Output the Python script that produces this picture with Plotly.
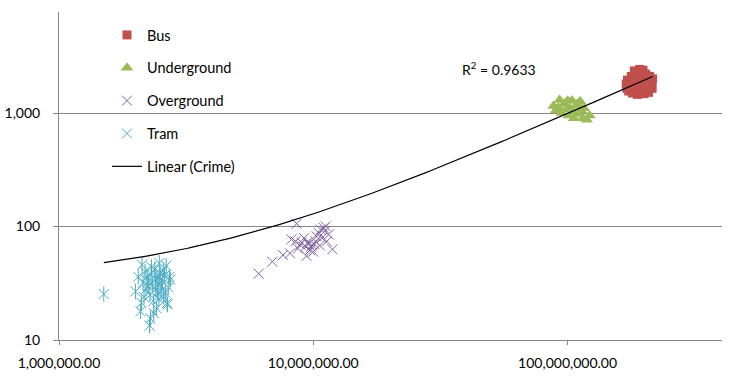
import plotly.graph_objects as go
import numpy as np

# ---- data ----
bus_x = [1.70e8, 1.71e8, 1.72e8, 1.74e8, 1.76e8, 1.78e8, 1.80e8, 1.81e8, 1.83e8, 1.84e8,
         1.86e8, 1.88e8, 1.89e8, 1.90e8, 1.92e8, 1.93e8, 1.95e8, 1.96e8, 1.98e8, 2.00e8,
         2.01e8, 2.03e8, 2.04e8, 2.06e8, 2.08e8, 2.10e8, 2.12e8, 2.13e8, 2.15e8, 2.16e8, 2.14e8]
bus_y = [1800, 1650, 1950, 1560, 1740, 2100, 1500, 1880, 2350, 1660,
         2000, 1460, 2250, 1800, 2420, 1600, 2100, 1740, 2380, 1480,
         1900, 2200, 1650, 2000, 1520, 2100, 1760, 1900, 1650, 2000, 1800]

under_x = [0.88e8, 0.90e8, 0.93e8, 0.95e8, 0.97e8, 1.00e8, 1.01e8, 1.02e8, 1.04e8, 1.05e8, 1.06e8,
           1.08e8, 1.10e8, 1.12e8, 1.13e8, 1.15e8, 1.16e8, 1.19e8, 1.22e8, 0.92e8, 0.99e8, 1.09e8]
under_y = [1150, 1050, 1300, 1000, 1200, 1280, 950, 1100, 1290, 1020, 900,
           1150, 980, 1270, 1050, 900, 1100, 870, 950, 1120, 1080, 1200]

over_x = [6.1e6, 6.9e6, 7.6e6, 8.1e6, 8.6e6, 8.2e6, 8.5e6, 8.9e6, 9.3e6, 9.4e6, 9.7e6,
          9.9e6, 10.2e6, 10.3e6, 10.7e6, 11.0e6, 11.1e6, 10.8e6, 11.3e6, 11.9e6, 9.2e6,
          10.0e6, 9.5e6, 9.6e6, 9.8e6, 10.5e6, 11.2e6, 8.7e6, 9.0e6, 10.1e6, 10.6e6, 11.5e6]
over_y = [38.4, 49, 56, 58, 106, 77, 74, 69, 67, 55, 62,
          69, 74, 82, 94, 97, 91, 79, 74, 63, 79,
          60, 72, 70, 66, 88, 100, 64, 72, 70, 68, 85]

tram_x = [1.50e6, 2.27e6, 2.48e6, 2.12e6, 2.64e6, 2.00e6, 2.72e6, 2.67e6, 2.09e6, 2.11e6,
          2.36e6, 2.62e6, 2.74e6, 2.66e6, 2.22e6, 2.25e6, 2.30e6, 2.33e6, 2.38e6, 2.40e6,
          2.43e6, 2.45e6, 2.50e6, 2.52e6, 2.55e6, 2.58e6, 2.20e6, 2.18e6, 2.28e6, 2.35e6,
          2.42e6, 2.47e6, 2.53e6, 2.60e6, 2.14e6, 2.05e6, 2.31e6, 2.57e6, 2.69e6, 2.16e6,
          2.24e6, 2.39e6, 2.49e6, 2.29e6, 2.44e6]
tram_y = [25.4, 13.4, 47.7, 46, 45, 26.8, 36, 20.5, 17.9, 21.2,
          17.3, 26, 34, 21.2, 36, 33, 38, 30, 42, 28,
          35, 31, 39, 27, 33, 24, 28, 40, 25, 22,
          19, 23, 30, 37, 32, 36, 44, 41, 29, 24,
          30, 34, 36, 15.5, 26]

# Excel "Linear (Crime)" trendline, coefficients
TREND_SLOPE = 9.56e-6
TREND_INTERCEPT = 33.7
R2_TEXT = "R<sup>2</sup> = 0.9633"

x_tickvals = [1e6, 1e7, 1e8]
x_ticktext = ["1,000,000.00", "10,000,000.00", "100,000,000.00"]
y_tickvals = [10, 100, 1000]
y_ticktext = ["10", "100", "1,000"]

FONT = "Lato"
GRID = "#868686"

all_x = bus_x + under_x + over_x + tram_x
tx = np.logspace(np.log10(min(all_x)), np.log10(max(all_x)), 200)
ty = TREND_SLOPE * tx + TREND_INTERCEPT

fig = go.Figure()
fig.add_trace(go.Scatter(x=bus_x, y=bus_y, mode="markers", name="Bus", legendgroup="bus",
                         marker=dict(symbol="square", size=9, color="#C0504D")))
fig.add_trace(go.Scatter(x=under_x, y=under_y, mode="markers", name="Underground", legendgroup="under",
                         marker=dict(symbol="triangle-up", size=11, color="#9BBB59")))
fig.add_trace(go.Scatter(x=over_x, y=over_y, mode="markers", name="Overground", legendgroup="over",
                         marker=dict(symbol="x-thin-open", size=10, color="#8064A2",
                                     line=dict(width=1, color="#8064A2"))))
fig.add_trace(go.Scatter(x=tram_x, y=tram_y, mode="markers", name="Tram", legendgroup="tram",
                         marker=dict(symbol="x-thin-open", size=10, color="#4BACC6",
                                     line=dict(width=1, color="#4BACC6"))))
fig.add_trace(go.Scatter(x=tram_x, y=tram_y, mode="markers", name="Tram", legendgroup="tram",
                         showlegend=False,
                         marker=dict(symbol="line-ns-open", size=11, color="#4BACC6",
                                     line=dict(width=1, color="#4BACC6"))))
fig.add_trace(go.Scatter(x=tx, y=ty, mode="lines", name="Linear (Crime)", legendgroup="trend",
                         line=dict(color="#000000", width=1.2)))

fig.add_annotation(x=7.578, y=3.39, xref="x", yref="y", text=R2_TEXT, showarrow=False,
                   xanchor="left", yanchor="middle", font=dict(family=FONT, size=14, color="#000"))

fig.update_layout(
    width=729, height=379,
    margin=dict(l=59, r=7, t=12, b=39),
    paper_bgcolor="white", plot_bgcolor="white",
    font=dict(family=FONT, size=14, color="#000"),
    showlegend=True,
    legend=dict(x=(107 - 59) / 663, y=(340 - 19) / 328, xanchor="left", yanchor="top",
                bgcolor="rgba(0,0,0,0)", tracegroupgap=11,
                font=dict(family=FONT, size=14.5, color="#000")),
)
fig.update_xaxes(type="log", range=[6, 6 + 663 / 254.3], showgrid=False, zeroline=False,
                 showline=True, linecolor=GRID, linewidth=1, automargin=False,
                 tickvals=x_tickvals, ticktext=x_ticktext, ticks="outside", ticklen=4,
                 tickcolor=GRID, ticklabelstandoff=6, tickfont=dict(family=FONT, size=14, color="#000"))
fig.update_yaxes(type="log", range=[1, 1 + 328 / 113.5], showgrid=True, gridcolor=GRID, gridwidth=1,
                 zeroline=False, showline=True, linecolor=GRID, linewidth=1, automargin=False,
                 tickvals=y_tickvals, ticktext=y_ticktext, ticks="outside", ticklen=5,
                 tickcolor=GRID, ticklabelstandoff=10, tickfont=dict(family=FONT, size=14, color="#000"))

fig.write_html("out.html", config={"displayModeBar": False},
               post_script="document.body.style.margin='0';")
